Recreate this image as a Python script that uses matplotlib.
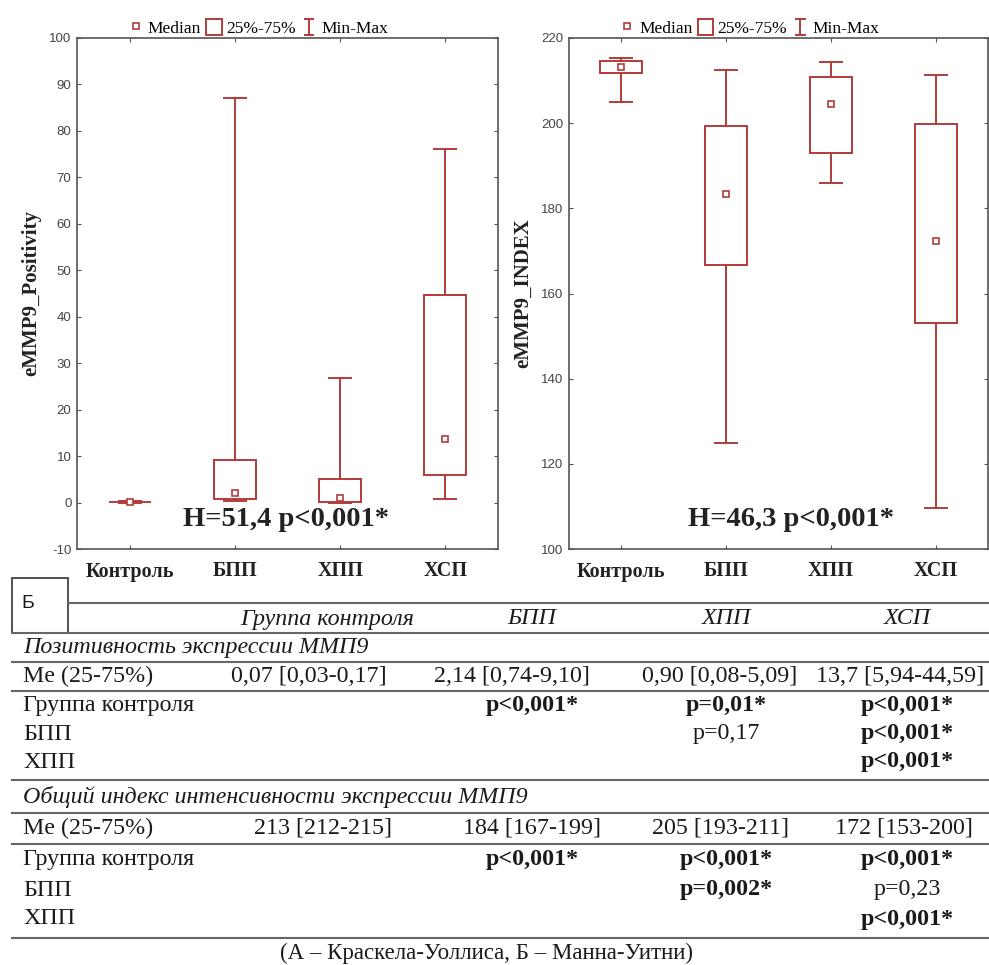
import numpy as np
import matplotlib
matplotlib.use("Agg")
import matplotlib.pyplot as plt
from matplotlib.lines import Line2D
from matplotlib.patches import Patch, Rectangle
from matplotlib.legend_handler import HandlerBase

plt.rcParams["axes.unicode_minus"] = False

# данные с графиков (медиана, квартили, мин-макс)
groups = ["Контроль", "БПП", "ХПП", "ХСП"]

pos_min = [0.0, 0.3, 0.0, 0.8]
pos_q1 = [0.03, 0.74, 0.08, 5.94]
pos_med = [0.07, 2.1, 0.90, 13.6]
pos_q3 = [0.17, 9.10, 5.09, 44.59]
pos_max = [0.3, 87.1, 26.8, 76.0]

idx_min = [205.0, 125.0, 186.0, 109.6]
idx_q1 = [211.8, 166.7, 193.0, 153.1]
idx_med = [213.3, 183.4, 204.4, 172.3]
idx_q3 = [214.7, 199.3, 210.9, 199.7]
idx_max = [215.2, 212.4, 214.4, 211.3]

pos_test = "H=51,4 p<0,001*"
idx_test = "H=46,3 p<0,001*"

# таблица Б
tab_cols = ["Группа контроля", "БПП", "ХПП", "ХСП"]
row_names = ["Группа контроля", "БПП", "ХПП"]
pos_title = "Позитивность экспрессии ММП9"
pos_me = ["0,07 [0,03-0,17]", "2,14 [0,74-9,10]", "0,90 [0,08-5,09]", "13,7 [5,94-44,59]"]
pos_p = [["p<0,001*", "p=0,01*", "p<0,001*"],
         ["", "p=0,17", "p<0,001*"],
         ["", "", "p<0,001*"]]
idx_title = "Общий индекс интенсивности экспрессии ММП9"
idx_me = ["213 [212-215]", "184 [167-199]", "205 [193-211]", "172 [153-200]"]
idx_p = [["p<0,001*", "p<0,001*", "p<0,001*"],
         ["", "p=0,002*", "p=0,23"],
         ["", "", "p<0,001*"]]
footnote = "(А – Краскела-Уоллиса, Б – Манна-Уитни)"

RED = "#b23b3b"
GRAY = "#555555"
SERIF = "Liberation Serif"
SANS = "Liberation Sans"


class HandlerIBeam(HandlerBase):
    def create_artists(self, legend, orig_handle, xdescent, ydescent,
                       width, height, fontsize, trans):
        cx = width / 2 - xdescent
        y0 = -ydescent
        y1 = height - ydescent
        w = width * 0.55
        line = Line2D([cx, cx, np.nan, cx - w / 2, cx + w / 2, np.nan, cx - w / 2, cx + w / 2],
                      [y0, y1, np.nan, y0, y0, np.nan, y1, y1],
                      color=RED, lw=1.4, transform=trans)
        return [line]


def draw_box(ax, mins, q1s, meds, q3s, maxs, ylabel, yticks, ylim, test_text, test_x):
    stats = []
    for i in range(len(groups)):
        stats.append({"label": groups[i], "whislo": mins[i], "q1": q1s[i],
                      "med": meds[i], "q3": q3s[i], "whishi": maxs[i], "mean": meds[i]})
    ax.bxp(stats, positions=range(len(groups)), widths=0.4, capwidths=0.21,
           patch_artist=True, showfliers=False, showmeans=True,
           boxprops=dict(facecolor="white", edgecolor=RED, linewidth=1.4),
           whiskerprops=dict(color=RED, linewidth=1.4),
           capprops=dict(color=RED, linewidth=1.4),
           medianprops=dict(linewidth=0),
           meanprops=dict(marker="s", markersize=5, markerfacecolor="white",
                          markeredgecolor=RED, markeredgewidth=1.2))
    ax.set_xlim(-0.5, 3.5)
    ax.set_ylim(*ylim)
    ax.set_yticks(yticks)
    ax.set_xticks(range(len(groups)))
    ax.set_xticklabels(groups, fontfamily=SERIF, fontweight="bold", fontsize=14.5, color="#222222")
    for lbl in ax.get_yticklabels():
        lbl.set_fontfamily(SANS)
        lbl.set_fontsize(9.5)
        lbl.set_color("#444444")
    ax.tick_params(axis="both", direction="in", length=3, color=GRAY,
                   top=True, right=True)
    ax.tick_params(axis="x", pad=9)
    ax.tick_params(axis="y", pad=4)
    for sp in ax.spines.values():
        sp.set_color(GRAY)
        sp.set_linewidth(1.2)
    ax.set_ylabel(ylabel, fontfamily=SERIF, fontweight="bold", fontsize=15, color="#222222")
    ax.yaxis.set_label_coords(-0.085, 0.5)
    ax.text(test_x, 0.057, test_text, transform=ax.get_xaxis_transform(),
            ha="center", va="center", fontfamily=SERIF, fontweight="bold",
            fontsize=20.5, color="#222222")

    h_med = Line2D([], [], marker="s", markersize=5, markerfacecolor="white",
                   markeredgecolor=RED, markeredgewidth=1.2, linestyle="none")
    h_box = Patch(facecolor="white", edgecolor=RED, linewidth=1.4)
    h_mm = Line2D([], [], color=RED)
    ax.legend([h_med, h_box, h_mm], ["Median", "25%-75%", "Min-Max"],
              handler_map={h_mm: HandlerIBeam()},
              loc="lower center", bbox_to_anchor=(0.43, 0.995), ncol=3,
              frameon=False, prop={"family": SERIF, "size": 12.5},
              handlelength=0.9, handleheight=1.0, handletextpad=0.25,
              columnspacing=0.3, borderaxespad=0.1, borderpad=0.1)


fig = plt.figure(figsize=(9.89, 9.65), dpi=100)
W, H = 989, 965

ax1 = fig.add_axes([77 / W, 1 - 549 / H, 421 / W, 511 / H])
draw_box(ax1, pos_min, pos_q1, pos_med, pos_q3, pos_max, "eMMP9_Positivity",
         np.arange(-10, 101, 10), (-10, 100), pos_test, 1.49)

ax2 = fig.add_axes([569 / W, 1 - 549 / H, 419 / W, 511 / H])
draw_box(ax2, idx_min, idx_q1, idx_med, idx_q3, idx_max, "eMMP9_INDEX",
         np.arange(100, 221, 20), (100, 220), idx_test, 1.62)

# таблица в пикселях фигуры
tab = fig.add_axes([0, 0, 1, 1], zorder=-1)
tab.set_xlim(0, W)
tab.set_ylim(H, 0)
tab.axis("off")

LINE = dict(color="#666666", linewidth=1.5)
FS = 17.3
TXT = "#1a1a1a"

tab.add_patch(Rectangle((12, 578), 56, 55, facecolor="white", edgecolor="#444444", linewidth=1.3))
tab.text(28, 604, "Б", fontfamily=SANS, fontsize=14, ha="center", va="center", color=TXT)

tab.plot([68, W], [603, 603], **LINE)
col_x = [327, 532, 726, 907]
for x, name in zip(col_x, tab_cols):
    tab.text(x, 619, name, fontfamily=SERIF, style="italic", fontsize=FS,
             ha="center", va="center", color=TXT)

hlines_y = [633, 662, 691, 780, 813, 844, 938]
for y in hlines_y:
    tab.plot([12, W], [y, y], **LINE)


def draw_section(title, title_y, me_vals, me_x, me_y, pvals, p_ys):
    tab.text(23, title_y, title, fontfamily=SERIF, style="italic", fontsize=FS,
             ha="left", va="center", color=TXT)
    tab.text(23, me_y, "Me (25-75%)", fontfamily=SERIF, fontsize=FS,
             ha="left", va="center", color=TXT)
    for x, v in zip(me_x, me_vals):
        tab.text(x, me_y, v, fontfamily=SERIF, fontsize=FS, ha="center", va="center", color=TXT)
    for r, y in enumerate(p_ys):
        tab.text(23, y, row_names[r], fontfamily=SERIF, fontsize=FS,
                 ha="left", va="center", color=TXT)
        for c, p in enumerate(pvals[r]):
            if not p:
                continue
            tab.text(col_x[c + 1], y, p, fontfamily=SERIF, fontsize=FS,
                     fontweight="bold" if p.endswith("*") else "normal",
                     ha="center", va="center", color=TXT)


draw_section(pos_title, 647, pos_me, [309, 512, 720, 900], 676, pos_p, [706, 734, 762])
draw_section(idx_title, 797, idx_me, [323, 532, 721, 904], 828, idx_p, [860, 890, 919])

tab.text(487, 953, footnote, fontfamily=SERIF, fontsize=16.5, ha="center", va="center", color=TXT)

fig.savefig("out.png", dpi=100)
